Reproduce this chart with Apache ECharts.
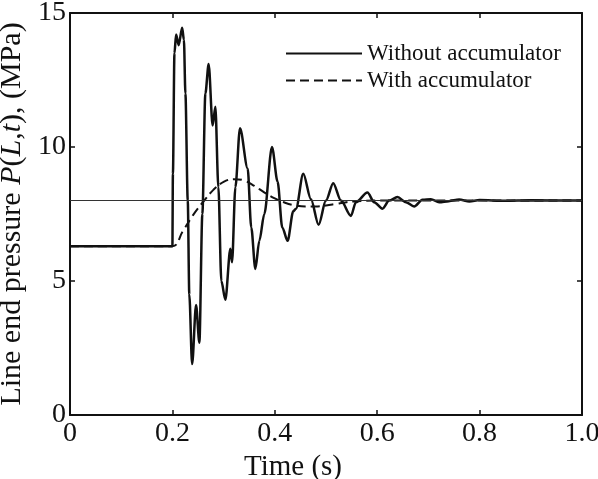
<!DOCTYPE html>
<html>
<head>
<meta charset="utf-8">
<script src="https://cdn.jsdelivr.net/npm/echarts@6/dist/echarts.min.js"></script>
<style>
html,body{margin:0;padding:0;background:#fff;}
#chart{width:598px;height:479px;}
</style>
</head>
<body>
<div id="chart"></div>
<script>
// line end pressure, without accumulator (time in s, pressure in MPa)
var timeNoAcc = [0, 0.2, 0.201, 0.204, 0.2072, 0.2123, 0.219, 0.2225, 0.2254, 0.23, 0.233, 0.2385,
	0.2462, 0.2527, 0.2585, 0.2644, 0.2708, 0.2786, 0.2839, 0.2898, 0.2956, 0.3034, 0.3132, 0.3165,
	0.323, 0.332, 0.347, 0.354, 0.362, 0.3698, 0.3795, 0.3945, 0.4055, 0.4146, 0.425, 0.436, 0.4414,
	0.4556, 0.4706, 0.4855, 0.4999, 0.5141, 0.5292, 0.5487, 0.5584, 0.581, 0.5941, 0.6103, 0.6234,
	0.6396, 0.656, 0.6722, 0.6884, 0.7048, 0.721, 0.74, 0.76, 0.78, 0.8, 0.85, 0.9, 1.0];
var pressNoAcc = [6.3, 6.3, 9, 13.5, 14.2, 13.8, 14.45, 14, 12, 8, 4.5, 1.9,
	4.1, 2.7, 7.5, 12, 13.1, 10.8, 11.5, 8.5, 5, 4.3, 6.2, 5.7,
	8.5, 10.7, 9.2, 7, 5.45, 6.5, 7.5, 10.0, 8.7, 7.0, 6.5, 7.6, 7.7,
	9.0, 8.05, 7.1, 8.0, 8.65, 8.0, 7.43, 7.94, 8.3, 7.94, 7.7, 8.0,
	8.13, 7.94, 7.78, 8.03, 8.05, 7.94, 7.98, 8.04, 7.97, 8.02, 7.99, 8.01, 8.0];

// line end pressure, with accumulator
var timeAcc = [0, 0.2, 0.22, 0.24, 0.26, 0.28, 0.30, 0.32, 0.34, 0.36, 0.38, 0.40, 0.42, 0.44,
	0.46, 0.48, 0.50, 0.52, 0.54, 0.56, 0.6, 1.0];
var pressAcc = [6.3, 6.3, 6.85, 7.45, 7.95, 8.4, 8.7, 8.8, 8.75, 8.55, 8.3, 8.08, 7.92, 7.82,
	7.78, 7.78, 7.82, 7.88, 7.94, 7.98, 8.0, 8.0];

// steady state pressure
var steadyLevel = 8;

var seriesNames = ['Without accumulator', 'With accumulator'];

function zip(xs, ys){
	var out = [];
	for(var i=0;i<xs.length;i++){
		out.push([xs[i], ys[i]]);
	}
	return out;
}

var serif = 'Liberation Serif';
var ink = '#111';

var myChart = echarts.init(document.getElementById('chart'));

var frameAxis = {
	axisLine: {show: true, onZero: false, lineStyle: {color: ink, width: 2}},
	axisTick: {show: true, inside: true, length: 5, lineStyle: {color: ink, width: 1.5}},
	splitLine: {show: false}
};

var option = {
	animation: false,
	grid: {left: 70, right: 16, top: 13, bottom: 64, outerBoundsMode: 'none', containLabel: false},
	legend: {
		orient: 'vertical',
		left: 280,
		top: 37,
		itemWidth: 76,
		itemHeight: 14,
		itemGap: 4,
		data: seriesNames,
		itemStyle: {opacity: 0},
		textStyle: {fontFamily: serif, fontSize: 23, color: ink}
	},
	xAxis: [
		Object.assign({}, frameAxis, {
			type: 'value', min: 0, max: 1, interval: 0.2, position: 'bottom',
			axisLabel: {
				fontFamily: serif, fontSize: 28, color: ink, margin: 5,
				formatter: function(v){ return v === 0 ? '0' : v.toFixed(1); }
			},
			name: 'Time (s)',
			nameLocation: 'middle',
			nameGap: 35,
			nameTextStyle: {fontFamily: serif, fontSize: 29, color: ink, padding: [0, 66, 0, 0]}
		}),
		Object.assign({}, frameAxis, {
			type: 'value', min: 0, max: 1, interval: 0.2, position: 'top',
			axisLabel: {show: false}
		})
	],
	yAxis: [
		Object.assign({}, frameAxis, {
			type: 'value', min: 0, max: 15, interval: 5, position: 'left',
			axisLabel: {fontFamily: serif, fontSize: 28, color: ink, margin: 4},
			name: 'Line end pressure {i|P}({i|L},{i|t}), (MPa)',
			nameLocation: 'middle',
			nameGap: 32,
			nameTextStyle: {
				fontFamily: serif, fontSize: 30, color: ink,
				rich: {i: {fontFamily: serif, fontSize: 30, fontStyle: 'italic', color: ink}}
			}
		}),
		Object.assign({}, frameAxis, {
			type: 'value', min: 0, max: 15, interval: 5, position: 'right',
			axisLabel: {show: false}
		})
	],
	series: [
		{
			name: seriesNames[0],
			type: 'line',
			data: zip(timeNoAcc, pressNoAcc),
			symbol: 'none',
			smooth: 0.3,
			smoothMonotone: 'x',
			lineStyle: {color: ink, width: 2.5},
			itemStyle: {color: ink},
			markLine: {
				silent: true,
				symbol: 'none',
				label: {show: false},
				lineStyle: {color: '#333', width: 1, type: 'solid'},
				data: [{yAxis: steadyLevel}]
			}
		},
		{
			name: seriesNames[1],
			type: 'line',
			data: zip(timeAcc, pressAcc),
			symbol: 'none',
			smooth: 0.4,
			lineStyle: {color: ink, width: 2, type: [9, 5]},
			itemStyle: {color: ink}
		}
	]
};

myChart.setOption(option);
</script>
</body>
</html>
